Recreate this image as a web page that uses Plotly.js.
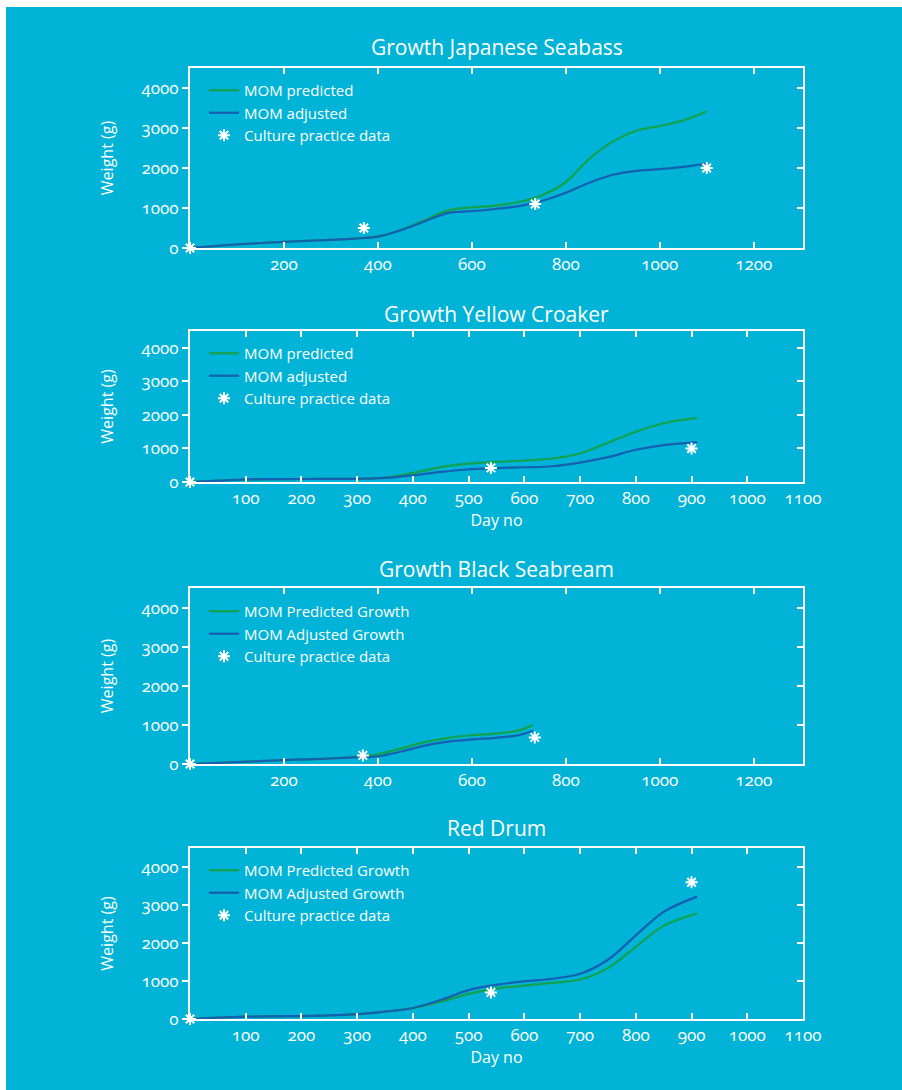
<!DOCTYPE html>
<html>
<head>
<meta charset="utf-8">
<script src="https://cdn.plot.ly/plotly-3.0.1.min.js"></script>
<style>
  html, body { margin: 0; padding: 0; background: #ffffff; }
  #chart { position: absolute; left: 6px; top: 7px; width: 896px; height: 1083px; }
  #chart text { font-variant-numeric: oldstyle-nums; font-feature-settings: "onum" 1; }
</style>
</head>
<body>
<div id="chart"></div>
<script>
// ---------- data ----------
const titles = ["Growth Japanese Seabass", "Growth Yellow Croaker", "Growth Black Seabream", "Red Drum"];

const legendNames1 = ["MOM predicted", "MOM adjusted", "Culture practice data"];
const legendNames2 = ["MOM Predicted Growth", "MOM Adjusted Growth", "Culture practice data"];

// Japanese Seabass
const days1 = [0,50,100,150,200,250,300,350,400,450,500,550,600,650,700,750,800,850,900,950,1000,1050,1100];
const pred1 = [0,45,90,125,155,180,205,235,290,455,700,940,1015,1060,1150,1320,1650,2230,2660,2930,3050,3190,3420];
const adj1  = [0,45,90,125,155,180,205,235,285,450,670,880,920,975,1045,1180,1380,1630,1830,1930,1970,2030,2110];
const obsDays1 = [0, 370, 735, 1100];
const obsW1    = [0, 500, 1100, 2000];

// Yellow Croaker
const days2 = [0,50,100,150,200,250,300,350,400,450,500,550,600,650,700,750,800,850,900,910];
const pred2 = [0,40,75,85,90,92,95,130,270,445,545,600,640,700,850,1170,1500,1750,1890,1900];
const adj2  = [0,40,75,85,90,92,95,120,200,300,380,415,440,470,580,740,960,1100,1175,1190];
const obsDays2 = [0, 540, 900];
const obsW2    = [0, 420, 1000];

// Black Seabream
const days3 = [0,50,100,150,200,250,300,350,400,450,500,550,600,650,700,730];
const pred3 = [0,25,50,75,100,120,145,185,250,400,560,670,735,775,860,1000];
const adj3  = [0,25,50,75,100,120,140,170,195,320,470,570,630,670,740,850];
const obsDays3 = [0, 368, 734];
const obsW3    = [0, 220, 680];

// Red Drum
const days4 = [0,50,100,150,200,250,300,350,400,450,500,550,600,650,700,750,800,850,910];
const pred4 = [0,35,60,70,78,95,130,195,285,455,660,800,880,950,1040,1340,1900,2450,2775];
const adj4  = [0,35,60,70,78,95,130,195,290,500,760,900,990,1060,1190,1560,2200,2820,3220];
const obsDays4 = [0, 540, 900];
const obsW4    = [0, 700, 3600];

const xTicksA = [200,400,600,800,1000,1200];
const xTicksB = [100,200,300,400,500,600,700,800,900,1000,1100];
const yTicks  = [0,1000,2000,3000,4000];

// ---------- style ----------
const BG = "#01b3d6";
const GREEN = "#13a24c";
const BLUE = "#1560b0";
const WHITE = "#ffffff";
const FONT = "Open Sans, Lato, sans-serif";

const panels = [
  {days: days1, pred: pred1, adj: adj1, od: obsDays1, ow: obsW1, names: legendNames1, xr: [0,1305], xt: xTicksA, xtitle: ""},
  {days: days2, pred: pred2, adj: adj2, od: obsDays2, ow: obsW2, names: legendNames1, xr: [0,1100], xt: xTicksB, xtitle: "Day no"},
  {days: days3, pred: pred3, adj: adj3, od: obsDays3, ow: obsW3, names: legendNames2, xr: [0,1305], xt: xTicksA, xtitle: ""},
  {days: days4, pred: pred4, adj: adj4, od: obsDays4, ow: obsW4, names: legendNames2, xr: [0,1100], xt: xTicksB, xtitle: "Day no"}
];

const H = 1083, W = 896;
const xDom = [184/W, 797/W];
const yPix = [[61,241],[324,475],[581,757],[841,1012]];
const titleY = [40, 307, 562, 821];
const legendTop = [67, 330, 588, 847];

const traces = [];
const layout = {
  width: W, height: H,
  paper_bgcolor: BG, plot_bgcolor: BG,
  margin: {l:0, r:0, t:0, b:0},
  font: {family: FONT, color: WHITE, size: 15},
  annotations: [],
  showlegend: true
};

panels.forEach((p, i) => {
  const n = i + 1;
  const xa = n === 1 ? "x" : "x" + n;
  const ya = n === 1 ? "y" : "y" + n;
  const lg = n === 1 ? "legend" : "legend" + n;
  traces.push({x: p.days, y: p.pred, type: "scatter", mode: "lines", name: p.names[0],
    line: {color: GREEN, width: 2.2, shape: "spline", smoothing: 1}, xaxis: xa, yaxis: ya, legend: lg});
  traces.push({x: p.days, y: p.adj, type: "scatter", mode: "lines", name: p.names[1],
    line: {color: BLUE, width: 2.2, shape: "spline", smoothing: 1}, xaxis: xa, yaxis: ya, legend: lg});
  traces.push({x: p.od, y: p.ow, type: "scatter", mode: "markers", name: p.names[2], cliponaxis: false,
    marker: {symbol: "asterisk-open", size: 10, color: WHITE, line: {color: WHITE, width: 2}},
    xaxis: xa, yaxis: ya, legend: lg});

  const yd = [1 - yPix[i][1]/H, 1 - yPix[i][0]/H];
  layout["xaxis" + (n === 1 ? "" : n)] = {
    domain: xDom, anchor: ya, range: p.xr, tickmode: "array", tickvals: p.xt,
    ticks: "inside", ticklen: 6, tickwidth: 2, tickcolor: WHITE,
    showline: true, linecolor: WHITE, linewidth: 2, mirror: "ticks",
    showgrid: false, zeroline: false, tickfont: {size: 17, color: WHITE},
    title: {text: p.xtitle, font: {size: 16, color: WHITE}, standoff: 3}, automargin: false
  };
  layout["yaxis" + (n === 1 ? "" : n)] = {
    domain: yd, anchor: xa, range: [0, 4500], tickmode: "array", tickvals: yTicks,
    ticks: "outside", ticklen: 6, tickwidth: 2, tickcolor: WHITE,
    showline: true, linecolor: WHITE, linewidth: 2, mirror: true,
    showgrid: false, zeroline: false, tickfont: {size: 17, color: WHITE},
    title: {text: "Weight (g)", font: {size: 16, color: WHITE}, standoff: 22}, automargin: false
  };
  // right-side inner ticks
  layout["yaxis" + (n + 4)] = {
    overlaying: ya, side: "right", anchor: xa, range: [0, 4500], tickmode: "array", tickvals: yTicks.slice(1),
    ticks: "inside", ticklen: 6, tickwidth: 2, tickcolor: WHITE, showticklabels: false,
    showline: false, showgrid: false, zeroline: false
  };
  traces.push({x: [p.xr[0]], y: [0], type: "scatter", mode: "none", showlegend: false, hoverinfo: "skip",
    xaxis: xa, yaxis: "y" + (n + 4)});

  layout[lg] = {
    x: 198/W, xanchor: "left", y: 1 - legendTop[i]/H, yanchor: "top",
    bgcolor: "rgba(0,0,0,0)", borderwidth: 0, font: {size: 15, color: WHITE, family: FONT},
    itemwidth: 30, tracegroupgap: 0
  };
  layout.annotations.push({
    text: titles[i], xref: "paper", yref: "paper", x: (xDom[0]+xDom[1])/2, y: 1 - titleY[i]/H,
    xanchor: "center", yanchor: "middle", showarrow: false, font: {size: 21, color: WHITE, family: FONT}
  });
});

Plotly.newPlot("chart", traces, layout, {displayModeBar: false, staticPlot: true});
</script>
</body>
</html>
